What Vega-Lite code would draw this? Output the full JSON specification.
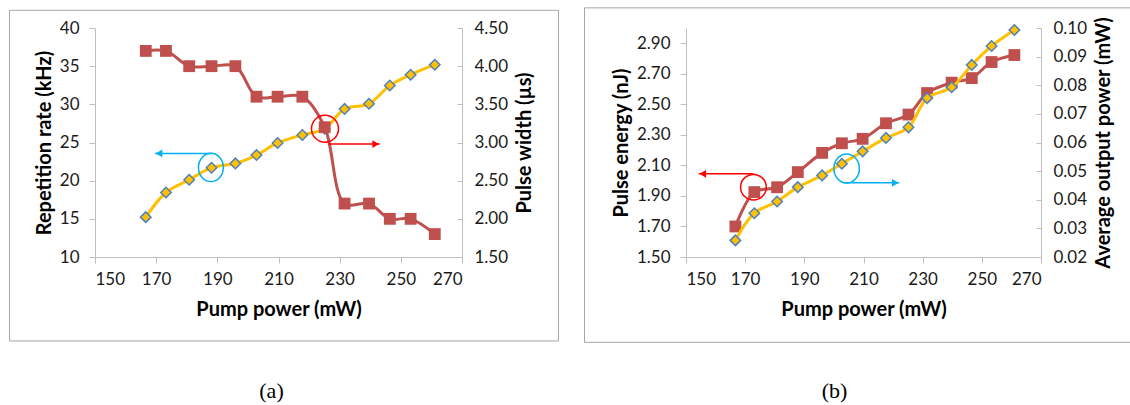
{
  "$schema": "https://vega.github.io/schema/vega-lite/v6.json",
  "padding": {"left": 8, "top": 7, "right": 0, "bottom": 0},
  "background": "white",
  "bounds": "flush",
  "spacing": 224,
  "config": {
    "view": {"stroke": null},
    "font": "Lato",
    "axis": {
      "grid": false,
      "domainColor": "#bfbfbf",
      "tickColor": "#bfbfbf",
      "labelFont": "Lato",
      "labelFontSize": 17,
      "labelColor": "#1a1a1a",
      "titleFont": "Lato",
      "titleFontSize": 20,
      "titleFontWeight": "bold",
      "titleColor": "#000000",
      "tickSize": 6,
      "labelPadding": 10
    },
    "axisX": {"labelPadding": 8, "titlePadding": 12},
    "axisLeft": {"titlePadding": 5},
    "axisRight": {"tickSize": -5, "labelPadding": 17, "titleAngle": 270, "titleBaseline": "top", "titlePadding": 7}
  },
  "datasets": {
    "a": [
      {"power": 166.6, "rate": 15.22, "width": 4.2},
      {"power": 173.2, "rate": 18.45, "width": 4.2},
      {"power": 180.8, "rate": 20.12, "width": 4.0},
      {"power": 188.1, "rate": 21.7, "width": 4.0},
      {"power": 195.9, "rate": 22.26, "width": 4.0},
      {"power": 202.8, "rate": 23.36, "width": 3.6},
      {"power": 209.7, "rate": 24.94, "width": 3.6},
      {"power": 217.8, "rate": 25.99, "width": 3.6},
      {"power": 225.1, "rate": 26.8, "width": 3.2},
      {"power": 231.6, "rate": 29.4, "width": 2.2},
      {"power": 239.6, "rate": 30.07, "width": 2.2},
      {"power": 246.4, "rate": 32.47, "width": 2.0},
      {"power": 253.2, "rate": 33.88, "width": 2.0},
      {"power": 261.1, "rate": 35.19, "width": 1.8}
    ],
    "b": [
      {"power": 166.7, "energy": 1.7, "avgpower": 0.0258},
      {"power": 173.1, "energy": 1.925, "avgpower": 0.0353},
      {"power": 180.8, "energy": 1.957, "avgpower": 0.0394},
      {"power": 187.8, "energy": 2.056, "avgpower": 0.0444},
      {"power": 196.0, "energy": 2.182, "avgpower": 0.0485},
      {"power": 202.7, "energy": 2.245, "avgpower": 0.0526},
      {"power": 209.7, "energy": 2.274, "avgpower": 0.0569},
      {"power": 217.6, "energy": 2.376, "avgpower": 0.0616},
      {"power": 225.2, "energy": 2.433, "avgpower": 0.0653},
      {"power": 231.5, "energy": 2.574, "avgpower": 0.0755},
      {"power": 239.8, "energy": 2.642, "avgpower": 0.0793},
      {"power": 246.6, "energy": 2.672, "avgpower": 0.0871},
      {"power": 253.3, "energy": 2.777, "avgpower": 0.0937},
      {"power": 261.0, "energy": 2.823, "avgpower": 0.0993}
    ]
  },
  "hconcat": [
    {
      "width": 367,
      "height": 229,
      "title": {"text": "(a)", "orient": "bottom", "font": "Liberation Serif", "fontSize": 22, "fontWeight": "normal", "color": "#000000", "frame": "group", "anchor": "middle", "offset": 40, "dx": -7},
      "data": {"name": "a"},
      "encoding": {
        "x": {"field": "power", "type": "quantitative", "scale": {"domain": [150, 270], "nice": false, "zero": false}, "axis": {"values": [150, 170, 190, 210, 230, 250, 270], "format": "d", "title": "Pump power (mW)"}}
      },
      "layer": [
        {
          "encoding": {
            "y": {"field": "rate", "type": "quantitative", "scale": {"domain": [10, 40], "nice": false, "zero": false}, "axis": {"values": [10, 15, 20, 25, 30, 35, 40], "format": "d", "title": "Repetition rate (kHz)"}}
          },
          "layer": [
            {
              "data": {"values": [{"power": 122.04, "power_end": 301.56, "rate": 42.32, "rate_end": -1.0}]},
              "mark": {"type": "rect", "fill": "transparent", "stroke": "#a6a6a6", "strokeWidth": 1, "clip": false},
              "encoding": {"x2": {"field": "power_end"}, "y2": {"field": "rate_end"}}
            },
            {"mark": {"type": "line", "color": "#FFC000", "strokeWidth": 3, "interpolate": "catmull-rom"}},
            {"mark": {"type": "point", "shape": "diamond", "filled": true, "fill": "#FFC000", "stroke": "#4F81BD", "strokeWidth": 1.5, "size": 110, "opacity": 1}},
            {
              "data": {"values": [{"power": 187.9, "rate": 21.73}]},
              "mark": {"type": "point", "shape": "M-0.88,0A0.88,1 0 1,0 0.88,0A0.88,1 0 1,0 -0.88,0Z", "filled": false, "stroke": "#00B0F0", "strokeWidth": 1.5, "size": 800, "opacity": 1}
            },
            {
              "data": {"values": [{"power": 169.6, "start": 188.1, "rate": 23.57}]},
              "mark": {"type": "rule", "color": "#00B0F0", "strokeWidth": 1.5},
              "encoding": {"x2": {"field": "start"}}
            },
            {
              "data": {"values": [{"power": 169.6, "start": 188.1, "rate": 23.57}]},
              "mark": {"type": "point", "shape": "triangle-left", "filled": true, "color": "#00B0F0", "size": 60, "opacity": 1, "xOffset": 4}
            }
          ]
        },
        {
          "encoding": {
            "y": {"field": "width", "type": "quantitative", "scale": {"domain": [1.5, 4.5], "nice": false, "zero": false}, "axis": {"values": [1.5, 2.0, 2.5, 3.0, 3.5, 4.0, 4.5], "format": ".2f", "title": "Pulse width (µs)"}}
          },
          "layer": [
            {"mark": {"type": "line", "color": "#C0504D", "strokeWidth": 3, "interpolate": "catmull-rom"}},
            {"mark": {"type": "point", "shape": "square", "filled": true, "color": "#C0504D", "size": 140, "opacity": 1}},
            {
              "data": {"values": [{"power": 225.2, "width": 3.18}]},
              "mark": {"type": "point", "shape": "circle", "filled": false, "stroke": "#FF0000", "strokeWidth": 1.5, "size": 729, "opacity": 1}
            },
            {
              "data": {"values": [{"power": 243.1, "start": 226.4, "width": 2.98}]},
              "mark": {"type": "rule", "color": "#FF0000", "strokeWidth": 1.5},
              "encoding": {"x2": {"field": "start"}}
            },
            {
              "data": {"values": [{"power": 243.1, "start": 226.4, "width": 2.98}]},
              "mark": {"type": "point", "shape": "triangle-right", "filled": true, "color": "#FF0000", "size": 60, "opacity": 1, "xOffset": -4}
            }
          ]
        }
      ],
      "resolve": {"scale": {"y": "independent"}}
    },
    {
      "width": 355,
      "height": 229,
      "title": {"text": "(b)", "orient": "bottom", "font": "Liberation Serif", "fontSize": 22, "fontWeight": "normal", "color": "#000000", "frame": "group", "anchor": "middle", "offset": 38, "dx": -29},
      "data": {"name": "b"},
      "encoding": {
        "x": {"field": "power", "type": "quantitative", "scale": {"domain": [150, 270], "nice": false, "zero": false}, "axis": {"values": [150, 170, 190, 210, 230, 250, 270], "format": "d", "title": "Pump power (mW)"}}
      },
      "layer": [
        {
          "encoding": {
            "y": {"field": "energy", "type": "quantitative", "scale": {"domain": [1.5, 3.0], "nice": false, "zero": false}, "axis": {"values": [1.5, 1.7, 1.9, 2.1, 2.3, 2.5, 2.7, 2.9], "format": ".2f", "title": "Pulse energy (nJ)"}}
          },
          "layer": [
            {
              "data": {"values": [{"power": 115.69, "power_end": 302.3, "energy": 3.132, "energy_end": 0.941}]},
              "mark": {"type": "rect", "fill": "transparent", "stroke": "#a6a6a6", "strokeWidth": 1, "clip": false},
              "encoding": {"x2": {"field": "power_end"}, "y2": {"field": "energy_end"}}
            },
            {"mark": {"type": "line", "color": "#C0504D", "strokeWidth": 3, "interpolate": "catmull-rom"}},
            {"mark": {"type": "point", "shape": "square", "filled": true, "color": "#C0504D", "size": 140, "opacity": 1}},
            {
              "data": {"values": [{"power": 172.8, "energy": 1.957}]},
              "mark": {"type": "point", "shape": "circle", "filled": false, "stroke": "#FF0000", "strokeWidth": 1.5, "size": 660, "opacity": 1}
            },
            {
              "data": {"values": [{"power": 154.3, "start": 172.8, "energy": 2.045}]},
              "mark": {"type": "rule", "color": "#FF0000", "strokeWidth": 1.5},
              "encoding": {"x2": {"field": "start"}}
            },
            {
              "data": {"values": [{"power": 154.3, "start": 172.8, "energy": 2.045}]},
              "mark": {"type": "point", "shape": "triangle-left", "filled": true, "color": "#FF0000", "size": 60, "opacity": 1, "xOffset": 4}
            }
          ]
        },
        {
          "encoding": {
            "y": {"field": "avgpower", "type": "quantitative", "scale": {"domain": [0.02, 0.1], "nice": false, "zero": false}, "axis": {"values": [0.02, 0.03, 0.04, 0.05, 0.06, 0.07, 0.08, 0.09, 0.1], "format": ".2f", "title": "Average output power (mW)"}}
          },
          "layer": [
            {"mark": {"type": "line", "color": "#FFC000", "strokeWidth": 3, "interpolate": "catmull-rom"}},
            {"mark": {"type": "point", "shape": "diamond", "filled": true, "fill": "#FFC000", "stroke": "#4F81BD", "strokeWidth": 1.5, "size": 110, "opacity": 1}},
            {
              "data": {"values": [{"power": 204.3, "avgpower": 0.0509}]},
              "mark": {"type": "point", "shape": "M-0.88,0A0.88,1 0 1,0 0.88,0A0.88,1 0 1,0 -0.88,0Z", "filled": false, "stroke": "#00B0F0", "strokeWidth": 1.5, "size": 841, "opacity": 1}
            },
            {
              "data": {"values": [{"power": 222.1, "start": 203.5, "avgpower": 0.0459}]},
              "mark": {"type": "rule", "color": "#00B0F0", "strokeWidth": 1.5},
              "encoding": {"x2": {"field": "start"}}
            },
            {
              "data": {"values": [{"power": 222.1, "start": 203.5, "avgpower": 0.0459}]},
              "mark": {"type": "point", "shape": "triangle-right", "filled": true, "color": "#00B0F0", "size": 60, "opacity": 1, "xOffset": -4}
            }
          ]
        }
      ],
      "resolve": {"scale": {"y": "independent"}}
    }
  ]
}
